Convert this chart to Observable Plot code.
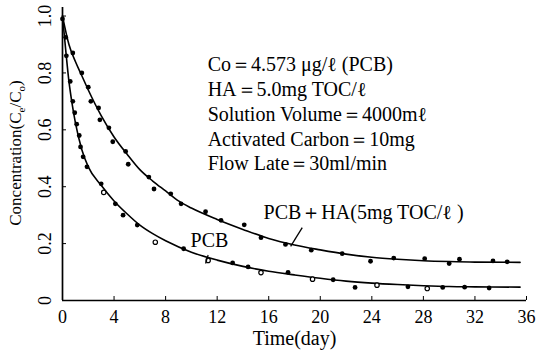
<!DOCTYPE html>
<html><head><meta charset="utf-8">
<script src="https://cdn.jsdelivr.net/npm/d3@7"></script>
<script src="https://cdn.jsdelivr.net/npm/@observablehq/plot@0.6"></script>
<style>
body{margin:0;background:#fff;}
#chart svg{display:block;}
</style></head><body><div id="chart"></div>
<script>
// ---- axis ticks ----
const xTicks = [0, 4, 8, 12, 16, 20, 24, 28, 32, 36];
const yTicks = [0, 0.2, 0.4, 0.6, 0.8, 1.0];
const yTickLabels = ["0", "0.2", "0.4", "0.6", "0.8", "1.0"];
const xTitle = "Time(day)";

// ---- PCB + HA series (measured points) ----
const hapDays = [0, 0.25, 0.8, 1.5, 2.0, 2.2, 2.8, 2.9, 3.6, 3.9, 4.9, 5.1, 6.7, 7.1, 8.4, 9.2, 11.1, 12.3, 14.1, 15.4, 17.3, 19.3, 21.7, 23.9, 25.7, 28.1, 30.0, 30.8, 33.4, 34.5];
const hapConc = [0.99, 0.925, 0.87, 0.80, 0.75, 0.70, 0.677, 0.635, 0.607, 0.558, 0.524, 0.479, 0.434, 0.392, 0.375, 0.34, 0.312, 0.282, 0.266, 0.221, 0.197, 0.177, 0.165, 0.138, 0.149, 0.147, 0.130, 0.145, 0.139, 0.136];

// ---- PCB series (measured points; open = hollow marker) ----
const pcbDays = [0.3, 0.6, 0.8, 0.95, 1.1, 1.3, 1.4, 1.6, 1.9, 3.0, 3.2, 4.1, 4.7, 5.8, 7.2, 9.4, 11.3, 13.2, 14.4, 15.4, 17.5, 19.4, 21.0, 22.7, 24.4, 26.8, 28.3, 29.5, 31.2, 33.1];
const pcbConc = [0.86, 0.77, 0.70, 0.66, 0.62, 0.58, 0.54, 0.505, 0.47, 0.41, 0.38, 0.34, 0.30, 0.265, 0.205, 0.182, 0.141, 0.132, 0.118, 0.098, 0.099, 0.075, 0.073, 0.046, 0.054, 0.048, 0.042, 0.046, 0.047, 0.044];
const pcbOpen = [false, false, false, false, false, false, false, false, false, false, true, false, false, false, true, false, true, false, false, true, false, true, false, false, true, false, true, false, false, false];

// ---- fitted curves ----
const hapCurveDays = [0, 0.5, 1, 1.5, 2, 3, 4, 5, 6, 7, 8, 9, 10, 12, 14, 16, 18, 20, 22, 24, 26, 28, 30, 32, 35.5];
const hapCurveConc = [1.0, 0.90, 0.84, 0.79, 0.74, 0.65, 0.575, 0.515, 0.46, 0.42, 0.385, 0.35, 0.325, 0.285, 0.25, 0.218, 0.195, 0.178, 0.163, 0.152, 0.145, 0.14, 0.137, 0.135, 0.134];
const pcbCurveDays = [0, 0.25, 0.5, 0.75, 1, 1.5, 2, 3, 4, 5, 6, 7, 8, 10, 12, 14, 16, 18, 20, 22, 24, 26, 28, 30, 32, 35.5];
const pcbCurveConc = [1.0, 0.88, 0.77, 0.69, 0.625, 0.53, 0.47, 0.405, 0.35, 0.305, 0.265, 0.235, 0.21, 0.17, 0.142, 0.12, 0.103, 0.09, 0.078, 0.068, 0.061, 0.056, 0.052, 0.049, 0.048, 0.047];

// ---- text ----
const noteLines = ["Co＝4.573 μg/ℓ (PCB)", "HA＝5.0mg TOC/ℓ", "Solution Volume＝4000mℓ", "Activated Carbon＝10mg", "Flow Late＝30ml/min"];
const hapLabel = "PCB＋HA(5mg TOC/ℓ )";
const pcbLabel = "PCB";

// build tables
const hapPts = hapDays.map((d, i) => ({day: d, c: hapConc[i]}));
const pcbPts = pcbDays.map((d, i) => ({day: d, c: pcbConc[i], open: pcbOpen[i]}));
const hapCurve = hapCurveDays.map((d, i) => ({day: d, c: hapCurveConc[i]}));
const pcbCurve = pcbCurveDays.map((d, i) => ({day: d, c: pcbCurveConc[i]}));
const noteY = [0.828, 0.740, 0.652, 0.564, 0.482];
const notes = noteLines.map((t, i) => ({t, y: noteY[i]}));
const yLabs = yTicks.map((v, i) => ({v, t: yTickLabels[i]}));

const FONT = "Liberation Serif";
const plot = Plot.plot({
  width: 539, height: 358,
  marginLeft: 62, marginRight: 13, marginTop: 7, marginBottom: 58,
  style: {fontFamily: FONT, fontSize: "18px", color: "#000", background: "#fff"},
  x: {domain: [0, 36]},
  y: {domain: [0, 1.03]},
  marks: [
    Plot.ruleX([0], {stroke: "#000", strokeWidth: 1.7}),
    Plot.ruleY([0], {stroke: "#000", strokeWidth: 1.7}),
    Plot.axisX({ticks: xTicks, tickSize: -4, tickPadding: 14, fontSize: 18, label: null, tickFormat: d => String(d)}),
    Plot.axisY({ticks: yTicks, tickSize: -4, tickFormat: () => "", label: null}),
    Plot.text(yLabs, {x: () => 0, y: "v", text: "t", dx: -17, rotate: -90, textAnchor: "middle", lineAnchor: "middle", fontSize: 18}),
    Plot.line(hapCurve, {x: "day", y: "c", curve: "monotone-x", stroke: "#000", strokeWidth: 1.6}),
    Plot.line(pcbCurve, {x: "day", y: "c", curve: "monotone-x", stroke: "#000", strokeWidth: 1.6}),
    Plot.dot(hapPts, {x: "day", y: "c", r: 2.4, fill: "#000", stroke: "none"}),
    Plot.dot(pcbPts.filter(d => !d.open), {x: "day", y: "c", r: 2.4, fill: "#000", stroke: "none"}),
    Plot.dot(pcbPts.filter(d => d.open), {x: "day", y: "c", r: 2.2, fill: "#fff", stroke: "#000", strokeWidth: 1.2}),
    Plot.text(notes, {x: () => 11.26, y: "y", text: "t", textAnchor: "start", lineAnchor: "middle", fontSize: 20}),
    Plot.text([hapLabel], {x: () => 15.6, y: () => 0.309, text: d => d, textAnchor: "start", lineAnchor: "middle", fontSize: 20}),
    Plot.text([pcbLabel], {x: () => 9.94, y: () => 0.21, text: d => d, textAnchor: "start", lineAnchor: "middle", fontSize: 20}),
    Plot.link([0], {x1: () => 18.6, y1: () => 0.256, x2: () => 17.7, y2: () => 0.19, stroke: "#000", strokeWidth: 1.3}),
    Plot.link([0], {x1: () => 11.3, y1: () => 0.16, x2: () => 11.1, y2: () => 0.13, stroke: "#000", strokeWidth: 1.2}),
    Plot.text([xTitle], {frameAnchor: "bottom", text: d => d, dy: 44, fontSize: 20})
  ]
});

// y-axis title with subscripts
const svg = d3.select(plot);
const yt = svg.append("text")
  .attr("transform", "translate(21,153) rotate(-90)")
  .attr("text-anchor", "middle")
  .attr("font-family", FONT)
  .attr("font-size", 17)
  .attr("fill", "#000");
yt.append("tspan").text("Concentration(C");
yt.append("tspan").text("e").attr("font-size", 11).attr("dy", 4);
yt.append("tspan").text("/C").attr("dy", -4);
yt.append("tspan").text("o").attr("font-size", 11).attr("dy", 4);
yt.append("tspan").text(")").attr("dy", -4);

document.getElementById("chart").appendChild(plot);
</script></body></html>
